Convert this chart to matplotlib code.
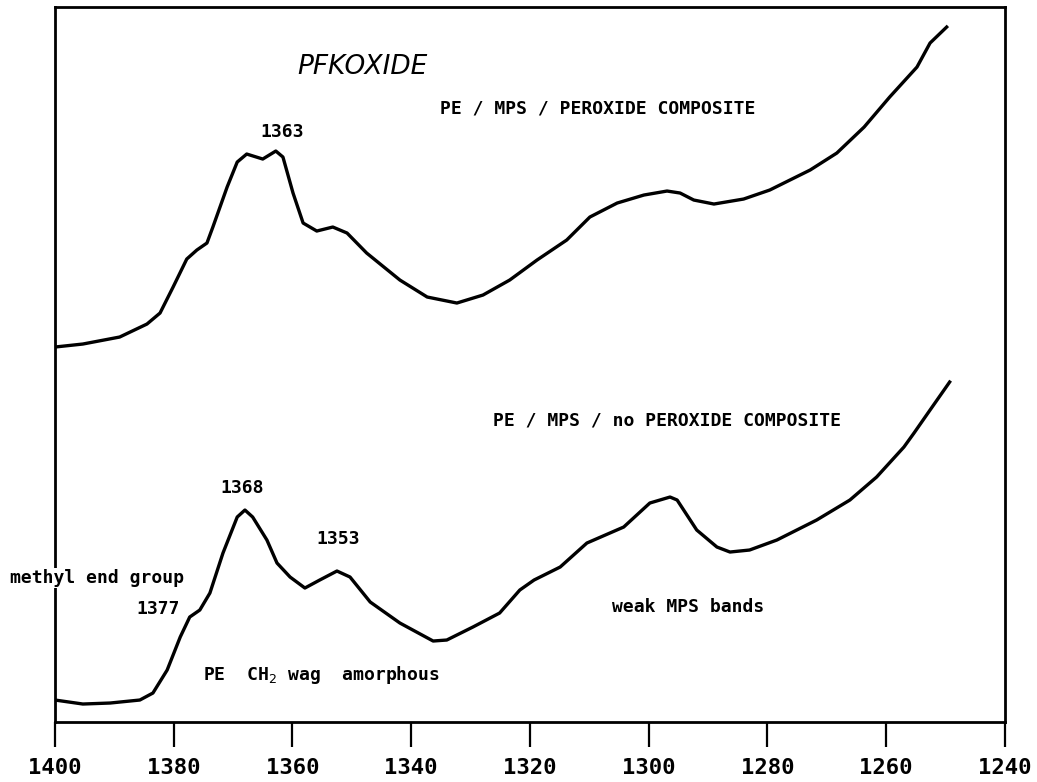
import numpy as np
import matplotlib
matplotlib.use('Agg')
import matplotlib.pyplot as plt

# wavenumber [cm-1] and relative absorbance
wn_perox = [1400.0, 1395.3, 1389.1, 1384.5, 1382.3, 1380.1, 1377.8, 1376.1, 1374.4,
    1373.4, 1371.0, 1369.3, 1367.7, 1365.0, 1362.8, 1361.6, 1359.9, 1358.2, 1355.9,
    1353.2, 1350.8, 1347.5, 1341.9, 1337.3, 1332.3, 1327.9, 1323.4, 1318.8, 1313.8,
    1309.9, 1305.3, 1300.8, 1296.9, 1294.7, 1292.4, 1289.0, 1284.0, 1279.6, 1272.8,
    1268.3, 1263.7, 1259.4, 1254.8, 1252.6, 1249.8]
abs_perox = [3.75, 3.78, 3.85, 3.98, 4.09, 4.35, 4.63, 4.72, 4.79,
    4.95, 5.35, 5.60, 5.68, 5.63, 5.71, 5.65, 5.29, 4.99, 4.91,
    4.95, 4.89, 4.69, 4.42, 4.25, 4.19, 4.27, 4.42, 4.62, 4.82,
    5.05, 5.19, 5.27, 5.31, 5.29, 5.22, 5.18, 5.23, 5.32, 5.52,
    5.69, 5.95, 6.25, 6.55, 6.79, 6.95]

wn_noperox = [1400.0, 1395.3, 1390.7, 1385.7, 1383.5, 1381.1, 1378.9, 1377.3, 1375.6,
    1373.9, 1371.7, 1369.3, 1368.0, 1366.7, 1364.3, 1362.6, 1360.4, 1357.9, 1355.4,
    1352.5, 1350.3, 1346.9, 1341.9, 1336.3, 1334.0, 1329.6, 1325.1, 1321.7, 1319.3,
    1314.9, 1310.4, 1304.2, 1299.8, 1296.4, 1295.2, 1291.9, 1288.5, 1286.3, 1283.0,
    1278.4, 1271.7, 1266.1, 1261.6, 1257.0, 1255.3, 1252.6, 1249.3]
abs_noperox = [0.22, 0.18, 0.19, 0.22, 0.29, 0.52, 0.85, 1.05, 1.12,
    1.29, 1.69, 2.05, 2.12, 2.05, 1.82, 1.59, 1.45, 1.34, 1.42,
    1.51, 1.45, 1.20, 0.99, 0.81, 0.82, 0.95, 1.09, 1.32, 1.42,
    1.55, 1.79, 1.95, 2.19, 2.25, 2.22, 1.92, 1.75, 1.70, 1.72,
    1.82, 2.02, 2.22, 2.45, 2.75, 2.89, 3.12, 3.40]

xticks = [1400, 1380, 1360, 1340, 1320, 1300, 1280, 1260, 1240]

mono = 'DejaVu Sans Mono'
fs = 13

fig = plt.figure(figsize=(10.37, 7.82), dpi=100)
ax = fig.add_axes([0.053, 0.0767, 0.916, 0.9143])

ax.plot(wn_perox, abs_perox, '-k', linewidth=2.4, solid_joinstyle='round')
ax.plot(wn_noperox, abs_noperox, '-k', linewidth=2.4, solid_joinstyle='round')

ax.set_xlim(1400, 1240)
ax.set_ylim(0, 7.15)
ax.set_xticks(xticks)
ax.set_xticklabels([str(t) for t in xticks], family=mono, fontweight='bold', fontsize=16)
ax.set_yticks([])
ax.tick_params(axis='x', direction='out', length=18, width=1.6, pad=8)
for side in ['left', 'right', 'top', 'bottom']:
    ax.spines[side].set_linewidth(2.0)

# handwritten note and typed annotations
ax.text(1359.2, 6.55, 'PFKOXIDE', fontsize=19, fontstyle='italic',
    ha='left', va='center')
ax.text(1335.2, 6.14, 'PE / MPS / PEROXIDE COMPOSITE', family=mono, fontweight='bold',
    fontsize=fs, ha='left', va='center')
ax.text(1361.8, 5.90, '1363', family=mono, fontweight='bold', fontsize=fs,
    ha='center', va='center')
ax.text(1326.2, 3.02, 'PE / MPS / no PEROXIDE COMPOSITE', family=mono, fontweight='bold',
    fontsize=fs, ha='left', va='center')
ax.text(1368.5, 2.34, '1368', family=mono, fontweight='bold', fontsize=fs,
    ha='center', va='center')
ax.text(1352.3, 1.83, '1353', family=mono, fontweight='bold', fontsize=fs,
    ha='center', va='center')
# label crosses the left frame, which is broken behind it in the original
ax.text(1407.6, 1.44, 'methyl end group', family=mono, fontweight='bold', fontsize=fs,
    ha='left', va='center', zorder=5,
    bbox=dict(facecolor='white', edgecolor='none', pad=1))
ax.text(1382.7, 1.13, '1377', family=mono, fontweight='bold', fontsize=fs,
    ha='center', va='center')
ax.text(1375.1, 0.47, r'PE  CH$_2$ wag  amorphous', family=mono, fontweight='bold',
    fontsize=fs, ha='left', va='center')
ax.text(1306.2, 1.15, 'weak MPS bands', family=mono, fontweight='bold', fontsize=fs,
    ha='left', va='center')

fig.savefig('out.png', dpi=100)
